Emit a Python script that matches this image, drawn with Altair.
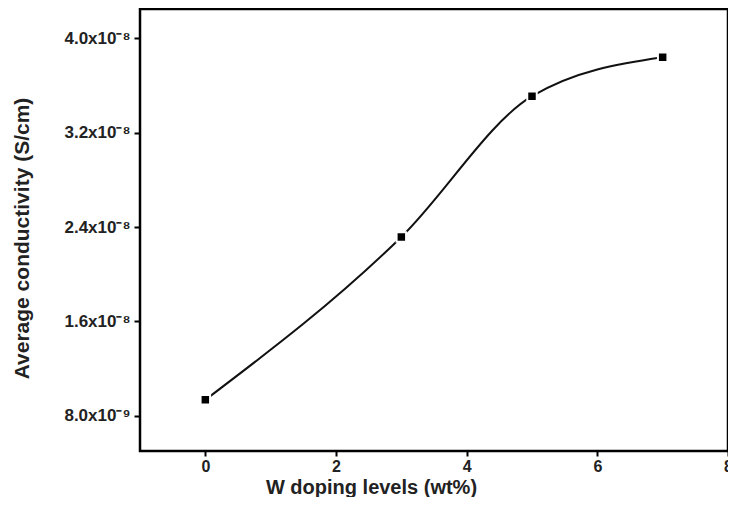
import altair as alt
import pandas as pd

doping = [0, 3, 5, 7]
conductivity = [9.34e-9, 2.316e-8, 3.51e-8, 3.84e-8]
y_ticks = [8.0e-9, 1.6e-8, 2.4e-8, 3.2e-8, 4.0e-8]
x_ticks = [0, 2, 4, 6, 8]

df = pd.DataFrame({"x": doping, "y": conductivity})

font = "Liberation Sans"

x_enc = alt.X(
    "x:Q",
    scale=alt.Scale(domain=[-1, 8], nice=False, zero=False),
    axis=alt.Axis(
        title="W doping levels (wt%)",
        values=x_ticks,
        format="d",
        grid=False,
        domain=False,
        tickColor="black",
        tickWidth=2,
        tickSize=5,
        labelPadding=2,
        labelFont=font,
        labelFontSize=16,
        labelFontWeight="bold",
        labelColor="#222",
        titleFont=font,
        titleFontSize=20,
        titleFontWeight="bold",
        titleColor="#222",
        titleX=231,
        titleY=42,
        titleBaseline="alphabetic",
        labelFlush=False,
        labelOverlap=False,
    ),
)

y_enc = alt.Y(
    "y:Q",
    scale=alt.Scale(domain=[5.0e-9, 4.25e-8], nice=False, zero=False),
    axis=alt.Axis(
        title="Average conductivity (S/cm)",
        values=y_ticks,
        labelExpr="datum.value < 1e-8 ? '8.0x10⁻⁹' : format(datum.value*1e8, '.1f') + 'x10⁻⁸'",
        grid=False,
        domain=False,
        tickColor="black",
        tickWidth=2,
        tickSize=6,
        labelPadding=4,
        labelFont=font,
        labelFontSize=17,
        labelFontWeight="bold",
        labelColor="#222",
        titleFont=font,
        titleFontSize=21,
        titleFontWeight="bold",
        titleColor="#222",
        titleX=-118,
        titleY=229,
        titleBaseline="middle",
        labelFlush=False,
        labelOverlap=False,
    ),
)

line = alt.Chart(df).mark_line(
    interpolate="monotone", color="#111", strokeWidth=2
).encode(x=x_enc, y=y_enc)

points = alt.Chart(df).mark_point(
    shape="square", filled=True, size=90, color="black", opacity=1,
    stroke="white", strokeWidth=2
).encode(x="x:Q", y="y:Q")

chart = (
    alt.layer(line, points)
    .properties(
        width=588,
        height=442,
        autosize=alt.AutoSizeParams(type="none"),
        padding={"left": 132, "top": 1, "right": 0, "bottom": 46},
        background="white",
    )
    .configure_view(stroke="black", strokeWidth=2.5)
)

chart.save("out.html", embed_options={"renderer": "svg", "actions": False})
